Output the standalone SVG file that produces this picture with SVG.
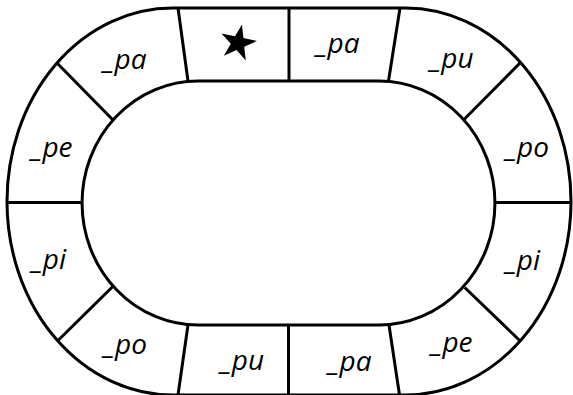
<svg xmlns="http://www.w3.org/2000/svg" width="573" height="395" viewBox="0 0 573 395">
<style>
.ln{fill:none;stroke:#000;stroke-width:3;stroke-linecap:butt}
.lb{font-family:"Open Sans","Noto Sans",sans-serif;font-style:italic;font-size:28px;fill:#000;text-anchor:middle}
</style>
<rect width="573" height="395" fill="#fff"/>
<g id="board">
<path class="ln" d="M172.6 8 H405.4 A165.6 193.5 0 0 1 405.4 395 H172.6 A165.6 193.5 0 0 1 172.6 8 Z"/>
<path class="ln" d="M198 81 H379 A116 122 0 0 1 379 325 H198 A116 122 0 0 1 198 81 Z"/>
</g>
<g id="dividers">
<line class="ln" x1="289" y1="8" x2="289" y2="81"/>
<line class="ln" x1="178" y1="8" x2="188" y2="81"/>
<line class="ln" x1="400" y1="8" x2="388.5" y2="81"/>
<line class="ln" x1="57" y1="63" x2="113" y2="120"/>
<line class="ln" x1="521" y1="62" x2="464" y2="119.5"/>
<line class="ln" x1="7" y1="202.5" x2="82" y2="202.5"/>
<line class="ln" x1="495" y1="202.5" x2="571" y2="202.5"/>
<line class="ln" x1="58" y1="340.5" x2="113.3" y2="286"/>
<line class="ln" x1="520.7" y1="341.5" x2="464.7" y2="287.5"/>
<line class="ln" x1="288.5" y1="325" x2="288.5" y2="395"/>
<line class="ln" x1="178" y1="395" x2="188" y2="325"/>
<line class="ln" x1="399.5" y1="395" x2="389" y2="325"/>
</g>
<g id="cell-star"><polygon fill="#000" transform="translate(238 43) rotate(12)" points="0,-19 4.3,-5.9 18.1,-5.9 6.9,2.3 11.2,15.4 0,7.2 -11.2,15.4 -6.9,2.3 -18.1,-5.9 -4.3,-5.9"/></g>
<g id="cell-top-pa"><text class="lb" x="338" y="53">_pa</text></g>
<g id="cell-ur-pu"><text class="lb" x="452" y="68">_pu</text></g>
<g id="cell-r-po"><text class="lb" x="527.5" y="157">_po</text></g>
<g id="cell-r-pi"><text class="lb" x="523" y="270">_pi</text></g>
<g id="cell-lr-pe"><text class="lb" x="452" y="352">_pe</text></g>
<g id="cell-bottom-pa"><text class="lb" x="350" y="370.5">_pa</text></g>
<g id="cell-bottom-pu"><text class="lb" x="242.5" y="370">_pu</text></g>
<g id="cell-ll-po"><text class="lb" x="125.5" y="353.5">_po</text></g>
<g id="cell-l-pi"><text class="lb" x="49" y="269">_pi</text></g>
<g id="cell-l-pe"><text class="lb" x="52" y="157">_pe</text></g>
<g id="cell-ul-pa"><text class="lb" x="125" y="68.5">_pa</text></g>
</svg>
